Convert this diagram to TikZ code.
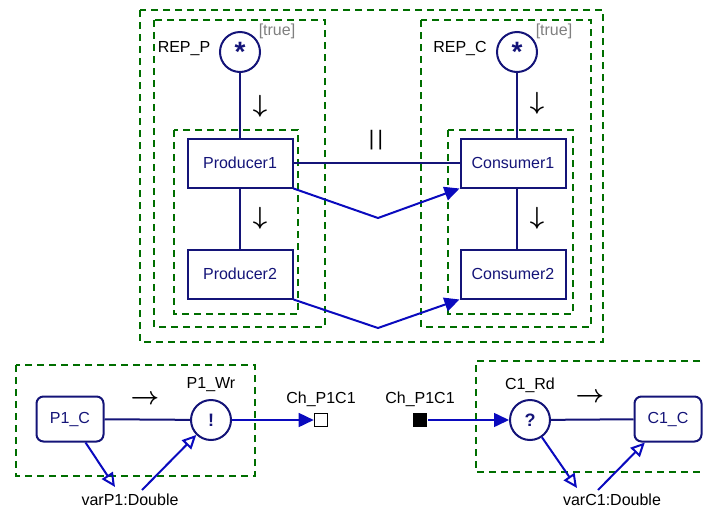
\documentclass[tikz,border=0pt]{standalone}
\usepackage{fontspec}
\setmainfont{Liberation Sans}
\usetikzlibrary{arrows.meta}
\definecolor{navyline}{RGB}{20,20,120}
\definecolor{flowblue}{RGB}{10,10,190}
\definecolor{grpgreen}{RGB}{0,110,0}

\begin{document}
\begin{tikzpicture}[x=1pt,y=-1pt,line width=2pt,
                    font=\fontsize{16}{18}\selectfont,
                    proc node/.style={rectangle,draw=navyline,text=navyline,minimum width=105pt,minimum height=49pt,inner sep=0pt},
                    comp node/.style={rectangle,rounded corners=7pt,draw=navyline,text=navyline,minimum width=67pt,minimum height=45pt,inner sep=0pt},
                    rep node/.style={circle,draw=navyline,text=navyline,minimum size=40pt,inner sep=0pt,font=\fontsize{28}{28}\selectfont\bfseries},
                    act node/.style={circle,draw=navyline,text=navyline,minimum size=40pt,inner sep=0pt,font=\fontsize{18}{18}\selectfont\bfseries},
                    group/.style={draw=grpgreen,dash pattern=on 7pt off 5pt,line width=2.2pt},
                    flow/.style={draw=flowblue,-{Triangle[length=15pt,width=14pt]}},
                    var flow/.style={draw=flowblue,-{Triangle[open,length=14pt,width=13pt]}},
                    order/.style={font=\fontsize{29}{29}\selectfont\boldmath}]
  \useasboundingbox (0,0) rectangle (705,512);
  % groups
  \draw[group] (140,10) rectangle (603,342);
  \draw[group] (154,20) rectangle (325,327);
  \draw[group] (421,20) rectangle (591,327);
  \draw[group] (174,130) rectangle (298,314);
  \draw[group] (448,130) rectangle (573,314);
  \draw[group] (16,365) rectangle (255,476);
  \draw[group] (712,361) -| (476,472) -- (712,472);
  % replication
  \node[rep node] (repP) at (240,52) {*};
  \node[rep node] (repC) at (517,52) {*};
  \node (repPlbl) at (184,49) {REP\_P};
  \node (repClbl) at (460,49) {REP\_C};
  \node[text=gray] (trueP) at (277,31) {[true]};
  \node[text=gray] (trueC) at (554,31) {[true]};
  \node[proc node] (prod1) at (240,163) {Producer1};
  \node[proc node] (prod2) at (240,274) {Producer2};
  \node[proc node] (cons1) at (513,163) {Consumer1};
  \node[proc node] (cons2) at (513,274) {Consumer2};
  \node[order] (ord1) at (260,106) {$\downarrow$};
  \node[order] (ord2) at (260,218) {$\downarrow$};
  \node[order] (ord3) at (537,103) {$\downarrow$};
  \node[order] (ord4) at (537,218) {$\downarrow$};
  \node[font=\fontsize{21}{21}\selectfont] (par) at (376,140) {|\hspace{3.5pt}|};
  \coordinate (low1) at (378,218);
  \coordinate (low2) at (378,328);
  \path[draw=navyline]
    (repP) edge (prod1)
    (prod1) edge (prod2)
            edge (cons1)
    (repC) edge (repC |- cons1.north)
    (repC |- cons1.south) edge (repC |- cons2.north);
  \draw[flow] (prod1.south east) -- (low1) -- (cons1.south west);
  \draw[flow] (prod2.south east) -- (low2) -- (cons2.south west);
  % producer side
  \node[comp node] (p1c) at (70,419) {P1\_C};
  \node[act node] (p1wr) at (211,420) {!};
  \node (p1wrlbl) at (211,385) {P1\_Wr};
  \node[order] (ord5) at (145,400) {$\rightarrow$};
  \node[draw=black,line width=1.6pt,minimum size=13pt,inner sep=0pt] (chout) at (321,420) {};
  \node (choutlbl) at (321,399) {Ch\_P1C1};
  \node (varP1) at (130,500) {varP1:Double};
  \coordinate (vp1in) at (115,487);
  \coordinate (vp1out) at (142,490);
  \draw[navyline] (p1c) -- (p1wr);
  \draw[flow,line width=1.6pt] (p1wr) -- (chout);
  \draw[var flow] (p1c) -- (vp1in);
  \draw[var flow] (vp1out) -- (p1wr);
  % consumer side
  \node[fill=black,minimum size=14pt,inner sep=0pt] (chin) at (420,420) {};
  \node (chinlbl) at (420,399) {Ch\_P1C1};
  \node[act node] (c1rd) at (530,420) {?};
  \node (c1rdlbl) at (530,385) {C1\_Rd};
  \node[order] (ord6) at (590,398) {$\rightarrow$};
  \node[comp node] (c1c) at (668,419) {C1\_C};
  \node (varC1) at (612,500) {varC1:Double};
  \coordinate (vc1in) at (577,488);
  \coordinate (vc1out) at (598,490);
  \draw[navyline] (c1rd) -- (c1c);
  \draw[flow,line width=1.6pt] (chin) -- (c1rd);
  \draw[var flow] (c1rd) -- (vc1in);
  \draw[var flow] (vc1out) -- (c1c);
\end{tikzpicture}
\end{document}
